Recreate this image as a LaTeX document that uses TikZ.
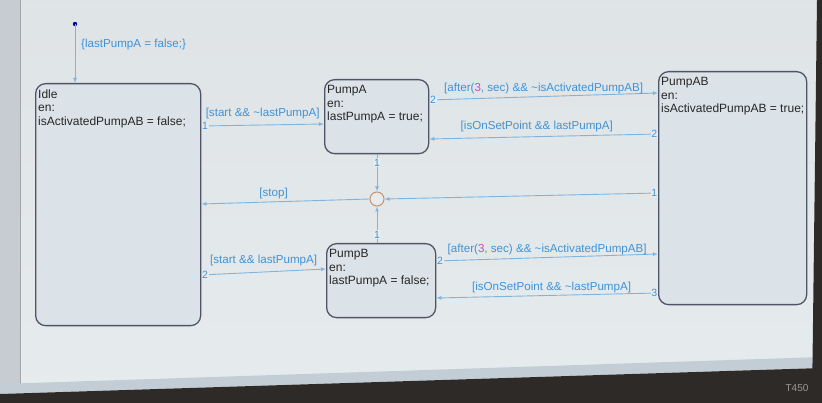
\documentclass[tikz,border=0pt]{standalone}
\usepackage{fontspec}
\setmainfont{Liberation Sans}
\usetikzlibrary{calc,arrows.meta}

\definecolor{scrbg}{HTML}{E6EBEE}
\definecolor{stfill}{HTML}{DCE3E8}
\definecolor{stline}{HTML}{4E5566}
\definecolor{trline}{HTML}{7DB5E0}
\definecolor{trtext}{HTML}{3F93D6}
\definecolor{mag}{HTML}{C04FC0}
\definecolor{junc}{HTML}{C8946E}
\definecolor{bezel}{HTML}{2E2A28}
\definecolor{bar}{HTML}{C3CDD6}
\definecolor{tool}{HTML}{C6CCD1}

\begin{document}
\begin{tikzpicture}[x=1pt,y=-1pt,
  state/.style={draw=stline,line width=1.3pt,fill=stfill,rounded corners=10pt,
    anchor=north west,inner sep=0pt},
  stxt/.style={anchor=north west,align=left,inner sep=0pt,text=black!85,
    font=\fontsize{12}{13.5}\selectfont},
  tr/.style={draw=trline,line width=0.9pt,-{Latex[open,length=5pt,width=4pt]}},
  glbl/.style={text=trtext,inner sep=0pt,font=\fontsize{11.6}{13}\selectfont},
  num/.style={text=trtext,inner sep=0.6pt,fill=scrbg,font=\fontsize{10.5}{12}\selectfont}]

  %% Screen, tool strip and bezel
  \useasboundingbox (0,0) rectangle (822,403);
  \shade[top color=scrbg!93!gray,bottom color=scrbg] (0,0) rectangle (822,403);
  \fill[tool] (0,0) rectangle (20,390);
  \draw[gray!70] (20,0) -- (20,390);
  \fill[bar] (0,384) -- (822,357) -- (822,368) -- (0,394) -- cycle;
  \fill[bezel] (0,394) -- (822,368) -- (822,403) -- (0,403) -- cycle;
  \fill[bezel] (817,0) -- (822,0) -- (822,403) -- (812,403) -- cycle;
  \node[text=gray!80,font=\fontsize{10}{12}\selectfont] (model) at (797,388) {T450};

  %% States
  \node[state,minimum width=165pt,minimum height=242pt] (Idle)   at (35,83)   {};
  \node[state,minimum width=104pt,minimum height=74pt]  (PumpA)  at (324,79)  {};
  \node[state,minimum width=148pt,minimum height=233pt] (PumpAB) at (658,71)  {};
  \node[state,minimum width=109pt,minimum height=74pt]  (PumpB)  at (326,243) {};

  \node[stxt] (IdleTxt)   at ($(Idle.north west)+(3,6.5)$)   {Idle\\en:\\isActivatedPumpAB = false;};
  \node[stxt] (PumpATxt)  at ($(PumpA.north west)+(3,6.5)$)  {PumpA\\en:\\lastPumpA = true;};
  \node[stxt] (PumpABTxt) at ($(PumpAB.north west)+(3,6.5)$) {PumpAB\\en:\\isActivatedPumpAB = true;};
  \node[stxt] (PumpBTxt)  at ($(PumpB.north west)+(3,6.5)$)  {PumpB\\en:\\lastPumpA = false;};

  %% Junction
  \node[draw=junc,line width=1pt,circle,minimum size=14pt,inner sep=0pt,fill=scrbg] (J) at (377,199) {};

  %% Default transition
  \coordinate (init) at (75,24);
  \fill[blue!60!black] (init) circle (2.2pt);
  \draw[tr] (init) -- (init |- Idle.north);
  \node[glbl,anchor=west] (initLbl) at (81,45) {\{lastPumpA = false;\}};

  %% Idle <-> pumps
  \coordinate (IdA) at (Idle.east |- 0,126);
  \coordinate (AId) at (PumpA.west |- 0,124);
  \draw[tr] (IdA) -- node[glbl,above=5.5pt]{[start \&\& \textasciitilde lastPumpA]} (AId);
  \node[num,anchor=west] at (IdA) {1};

  \coordinate (IdB) at (Idle.east |- 0,275);
  \coordinate (BId) at (PumpB.west |- 0,269);
  \draw[tr] (IdB) -- node[glbl,above=6pt]{[start \&\& lastPumpA]} (BId);
  \node[num,anchor=west] at (IdB) {2};

  %% PumpA <-> PumpAB
  \coordinate (AAB) at (PumpA.east |- 0,100);
  \coordinate (ABA) at (PumpAB.west |- 0,93);
  \draw[tr] (AAB) -- node[glbl,above=2.5pt]{[after(\textcolor{mag}{3}, sec) \&\& \textasciitilde isActivatedPumpAB]} (ABA);
  \node[num,anchor=west] at (AAB) {2};

  \coordinate (ABA2) at (PumpAB.west |- 0,134);
  \coordinate (AAB2) at (PumpA.east |- 0,139);
  \draw[tr] (ABA2) -- node[glbl,above=4.5pt,pos=0.53]{[isOnSetPoint \&\& lastPumpA]} (AAB2);
  \node[num,anchor=east] at (ABA2) {2};

  %% PumpB <-> PumpAB
  \coordinate (BAB) at (PumpB.east |- 0,261);
  \coordinate (ABB) at (PumpAB.west |- 0,254);
  \draw[tr] (BAB) -- node[glbl,above=2.5pt]{[after(\textcolor{mag}{3}, sec) \&\& \textasciitilde isActivatedPumpAB]} (ABB);
  \node[num,anchor=west] at (BAB) {2};

  \coordinate (ABB2) at (PumpAB.west |- 0,293);
  \coordinate (BAB2) at (PumpB.east |- 0,298);
  \draw[tr] (ABB2) -- node[glbl,above=2.5pt,pos=0.48]{[isOnSetPoint \&\& \textasciitilde lastPumpA]} (BAB2);
  \node[num,anchor=east] at (ABB2) {3};

  %% Into and out of the junction
  \coordinate (AJ) at (PumpA.south -| J);
  \draw[tr] (AJ) -- (J.north);
  \node[num,anchor=north] at ($(AJ)+(0,4)$) {1};

  \coordinate (BJ) at (PumpB.north -| J);
  \draw[tr] (BJ) -- (J.south);
  \node[num,anchor=south] at ($(BJ)+(0,-4)$) {1};

  \coordinate (ABJ) at (PumpAB.west |- 0,193);
  \draw[tr] (ABJ) -- (J.east);
  \node[num,anchor=east] at (ABJ) {1};

  \coordinate (JId) at (Idle.east |- 0,204);
  \draw[tr] (J.west) -- node[glbl,above=2.5pt,pos=0.57]{[stop]} (JId);

\end{tikzpicture}
\end{document}
